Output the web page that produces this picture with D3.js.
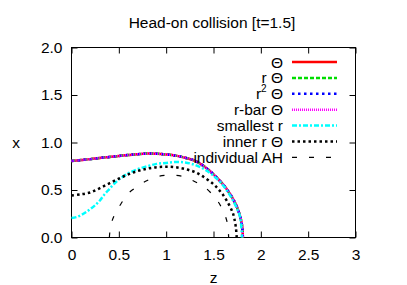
<!DOCTYPE html>
<html lang="en">
<head>
<meta charset="UTF-8">
<title>Head-on collision</title>
<style>
  body { margin: 0; background: #fff; }
  svg { display: block; }
  text { font-family: "Liberation Sans", Arial, sans-serif; font-size: 15.5px; fill: #000; }
  .axis path { display: none; }
  .axis line { stroke: #000; stroke-width: 1; }
</style>
</head>
<body>
<script src="https://d3js.org/d3.v7.min.js"></script>
<script>
// horizon shapes at t=1.5, x against z
const thetaZ = [0, 0.1, 0.2, 0.3, 0.4, 0.5, 0.6, 0.7, 0.8, 0.9, 1.0, 1.1, 1.2, 1.3, 1.4, 1.5, 1.6, 1.67, 1.72, 1.76, 1.79, 1.805, 1.81];
const thetaX = [0.806, 0.815, 0.825, 0.838, 0.848, 0.858, 0.868, 0.877, 0.883, 0.882, 0.874, 0.862, 0.84, 0.81, 0.75, 0.665, 0.56, 0.465, 0.38, 0.29, 0.19, 0.1, 0];

const smallestZ = [0, 0.05, 0.1, 0.15, 0.2, 0.25, 0.3, 0.35, 0.4, 0.45, 0.5, 0.6, 0.7, 0.8, 0.9, 1.0, 1.1, 1.2, 1.3, 1.4, 1.5, 1.6, 1.65, 1.7, 1.75, 1.78, 1.79, 1.797, 1.8];
const smallestX = [0.205, 0.215, 0.235, 0.265, 0.30, 0.34, 0.39, 0.455, 0.51, 0.565, 0.61, 0.675, 0.72, 0.75, 0.775, 0.785, 0.795, 0.79, 0.765, 0.72, 0.65, 0.55, 0.48, 0.40, 0.30, 0.22, 0.15, 0.07, 0];

const innerZ = [0, 0.1, 0.2, 0.3, 0.4, 0.5, 0.6, 0.7, 0.8, 0.9, 1.0, 1.1, 1.2, 1.3, 1.4, 1.5, 1.55, 1.6, 1.65, 1.7, 1.72, 1.737, 1.745];
const innerX = [0.443, 0.455, 0.475, 0.52, 0.57, 0.62, 0.665, 0.70, 0.725, 0.74, 0.745, 0.74, 0.72, 0.69, 0.635, 0.56, 0.51, 0.45, 0.37, 0.27, 0.2, 0.1, 0];

const ahZ = [0.40, 0.41, 0.43, 0.47, 0.52, 0.6, 0.7, 0.8, 0.9, 1.0, 1.1, 1.2, 1.3, 1.4, 1.5, 1.56, 1.6, 1.63, 1.65, 1.66];
const ahX = [0, 0.1, 0.18, 0.27, 0.35, 0.465, 0.54, 0.60, 0.64, 0.655, 0.655, 0.635, 0.59, 0.535, 0.44, 0.36, 0.28, 0.21, 0.13, 0];

const xTicks = [0, 0.5, 1, 1.5, 2, 2.5, 3];
const yTicks = [0, 0.5, 1, 1.5, 2];

const series = [
  { label: "Θ", z: thetaZ, x: thetaX, color: "#ff0000", width: 2.5, dash: null },
  { label: "r Θ", z: thetaZ, x: thetaX, color: "#00dd00", width: 2.5, dash: "4,2" },
  { label: "r2 Θ", z: thetaZ, x: thetaX, color: "#0000ff", width: 2.5, dash: "2.5,3.5" },
  { label: "r-bar Θ", z: thetaZ, x: thetaX, color: "#ff00ff", width: 2.5, dash: "1,1" },
  { label: "smallest r", z: smallestZ, x: smallestX, color: "#00ffff", width: 2.5, dash: "5,2,2,2" },
  { label: "inner r Θ", z: innerZ, x: innerX, color: "#000000", width: 2.5, dash: "2.5,3" },
  { label: "individual AH", z: ahZ, x: ahX, color: "#000000", width: 1.2, dash: "5,12" }
];

const width = 407, height = 285;
const plotL = 71.5, plotR = 355.5, plotT = 47.5, plotB = 237.5;

const svg = d3.select("body").append("svg")
  .attr("width", width)
  .attr("height", height);

const x = d3.scaleLinear().domain([0, 3]).range([plotL, plotR]);
const y = d3.scaleLinear().domain([0, 2]).range([plotB, plotT]);

// ticks on all four sides, pointing in
svg.append("g").attr("class", "axis")
  .attr("transform", `translate(0,${plotB})`)
  .call(d3.axisBottom(x).tickValues(xTicks).tickSizeInner(-6).tickSizeOuter(0).tickPadding(11).tickFormat(d => String(d)));
svg.append("g").attr("class", "axis")
  .attr("transform", `translate(0,${plotT})`)
  .call(d3.axisTop(x).tickValues(xTicks).tickSizeInner(-6).tickSizeOuter(0).tickFormat(""));
svg.append("g").attr("class", "axis")
  .attr("transform", `translate(${plotL},0)`)
  .call(d3.axisLeft(y).tickValues(yTicks).tickSizeInner(-6).tickSizeOuter(0).tickPadding(9).tickFormat(d3.format(".1f")));
svg.append("g").attr("class", "axis")
  .attr("transform", `translate(${plotR},0)`)
  .call(d3.axisRight(y).tickValues(yTicks).tickSizeInner(-6).tickSizeOuter(0).tickFormat(""));

svg.selectAll(".axis text")
  .attr("fill", "#000")
  .style("font-size", "15.5px")
  .style("font-family", "'Liberation Sans', Arial, sans-serif");

svg.append("rect")
  .attr("x", plotL).attr("y", plotT)
  .attr("width", plotR - plotL).attr("height", plotB - plotT)
  .attr("fill", "none").attr("stroke", "#000").attr("stroke-width", 1);

const line = d3.line()
  .x(d => x(d[0]))
  .y(d => y(d[1]))
  .curve(d3.curveCatmullRom.alpha(0.5));

series.forEach(s => {
  const pts = s.z.map((z, i) => [z, s.x[i]]);
  svg.append("path")
    .attr("d", line(pts))
    .attr("fill", "none")
    .attr("stroke", s.color)
    .attr("stroke-width", s.width)
    .attr("stroke-dasharray", s.dash);
});

// legend
const legend = svg.append("g");
series.forEach((s, i) => {
  const ly = 62 + i * 15.9;
  const t = legend.append("text")
    .attr("x", 283).attr("y", ly + 5.5)
    .attr("text-anchor", "end");
  if (s.label === "r2 Θ") {
    t.append("tspan").text("r");
    t.append("tspan").attr("dy", "-7px").style("font-size", "10px").text("2");
    t.append("tspan").attr("dy", "7px").text(" Θ");
  } else {
    t.text(s.label);
  }
  legend.append("line")
    .attr("x1", 292).attr("x2", 337)
    .attr("y1", ly).attr("y2", ly)
    .attr("stroke", s.color)
    .attr("stroke-width", s.width)
    .attr("stroke-dasharray", s.dash);
});

svg.append("text")
  .attr("x", 212).attr("y", 23)
  .attr("dy", "0.35em")
  .attr("text-anchor", "middle")
  .text("Head-on collision [t=1.5]");

svg.append("text")
  .attr("x", 213.5).attr("y", 278)
  .attr("dy", "0.35em")
  .attr("text-anchor", "middle")
  .text("z");

svg.append("text")
  .attr("x", 16).attr("y", 143)
  .attr("dy", "0.35em")
  .attr("text-anchor", "middle")
  .text("x");
</script>
</body>
</html>
